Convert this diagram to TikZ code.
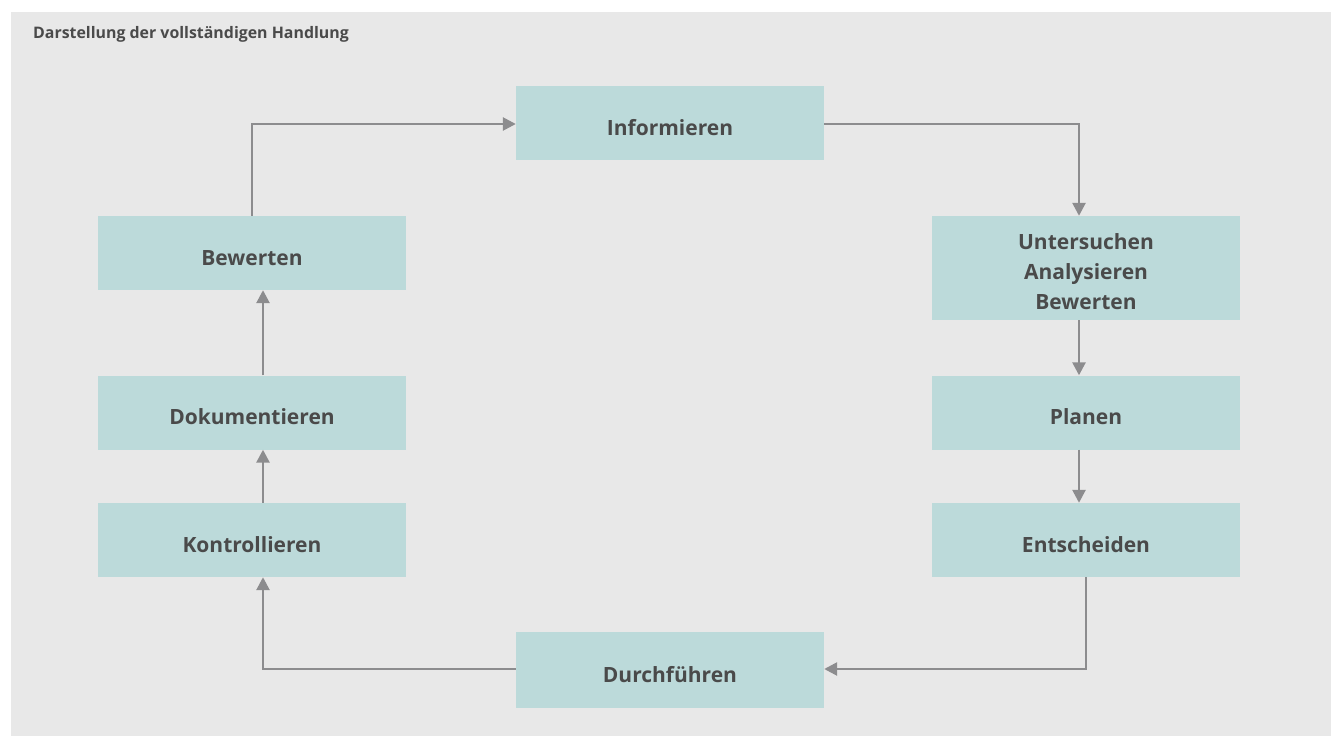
\documentclass[tikz,border=0pt]{standalone}
\usepackage{fontspec}
\setmainfont{Open Sans}
\usetikzlibrary{arrows.meta}
\definecolor{bg}{HTML}{E8E8E8}
\definecolor{boxfill}{HTML}{BCDADA}
\definecolor{txt}{HTML}{4A4A4A}
\definecolor{conn}{HTML}{8C8C8E}
\tikzset{
  stepbox/.style={fill=boxfill, draw=none, minimum width=308pt, minimum height=74pt,
    inner sep=0pt, align=center, text=txt, text height=24pt, text depth=0pt,
    font=\fontsize{21}{30}\selectfont\bfseries},
  conline/.style={draw=conn, line width=2.6pt},
  conarrow/.style={conline, -{Triangle[length=13pt,width=13pt]}}
}
\begin{document}
\begin{tikzpicture}[x=1pt,y=-1pt]
\useasboundingbox (0,0) rectangle (1333,738);
\fill[white] (0,0) rectangle (1333,738);
\fill[bg] (11,12) rectangle (1331,736);
\node[anchor=base west, inner sep=0pt, text=txt, font=\fontsize{15.9}{20}\selectfont\bfseries] (title) at (33,39) {Darstellung der vollständigen Handlung};

\node[stepbox] (info) at (670,123.5) {Informieren};
\node[stepbox, minimum height=104pt, text height=83pt, text depth=0pt] (unter) at (1086,268) {Untersuchen\\Analysieren\\Bewerten};
\node[stepbox] (plan) at (1086,412.5) {Planen};
\node[stepbox] (ent) at (1086,540) {Entscheiden};
\node[stepbox, minimum height=76pt] (durch) at (670,670) {Durchführen};
\node[stepbox] (kontr) at (252,540) {Kontrollieren};
\node[stepbox] (doku) at (252,412.5) {Dokumentieren};
\node[stepbox] (bew) at (252,253) {Bewerten};

\coordinate (c1) at (252,124);
\coordinate (c2) at (1079,124);
\coordinate (c3) at (1086,669);
\coordinate (c4) at (263,669);

\draw[conarrow] (bew.north) -- (c1) -- (info.west |- c1);
\draw[conarrow] (info.east |- c2) -- (c2) -- (c2 |- unter.north);
\draw[conarrow] (c2 |- unter.south) -- (c2 |- plan.north);
\draw[conarrow] (c2 |- plan.south) -- (c2 |- ent.north);
\draw[conarrow] (ent.south) -- (c3) -- (durch.east |- c3);
\draw[conarrow] (durch.west |- c4) -- (c4) -- (c4 |- kontr.south);
\draw[conarrow] (c4 |- kontr.north) -- (c4 |- doku.south);
\draw[conarrow] (c4 |- doku.north) -- (c4 |- bew.south);
\end{tikzpicture}
\end{document}
